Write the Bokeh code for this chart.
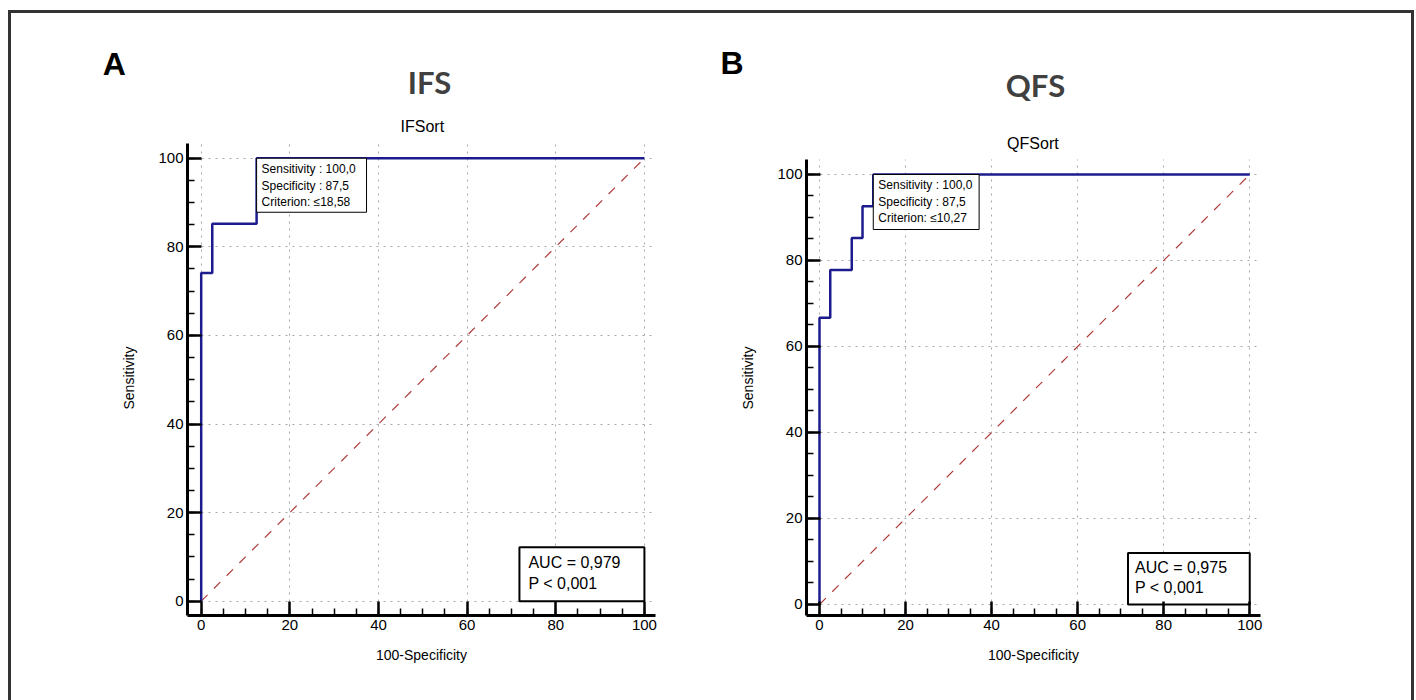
from bokeh.plotting import figure
from bokeh.layouts import row
from bokeh.models import Range1d, Label, FixedTicker
from bokeh.embed import file_html
from bokeh.resources import INLINE

# ---------------- data ----------------
major_ticks = [0, 20, 40, 60, 80, 100]
minor_ticks = list(range(0, 101, 5))

# Panel A (IFS)
a_fpr = [0, 0, 2.5, 2.5, 12.5, 12.5, 100]
a_tpr = [0, 74.1, 74.1, 85.2, 85.2, 100, 100]
a_crit_sens = 100.0
a_crit_spec = 87.5
a_crit_text = ["Sensitivity : 100,0", "Specificity : 87,5", "Criterion: \u226418,58"]
a_auc_text = ["AUC = 0,979", "P < 0,001"]

# Panel B (QFS)
b_fpr = [0, 0, 2.5, 2.5, 7.5, 7.5, 10, 10, 12.5, 12.5, 100]
b_tpr = [0, 66.7, 66.7, 77.8, 77.8, 85.2, 85.2, 92.6, 92.6, 100, 100]
b_crit_sens = 100.0
b_crit_spec = 87.5
b_crit_text = ["Sensitivity : 100,0", "Specificity : 87,5", "Criterion: \u226410,27"]
b_auc_text = ["AUC = 0,975", "P < 0,001"]

ref_x = [0, 100]
ref_y = [0, 100]

FONT = "Liberation Sans"
ROC_COLOR = "#1c1c8e"
DIAG_COLOR = "#b03c3c"


def make_panel(letter, title, subtitle, fpr, tpr, crit_sens, crit_spec, crit_text,
               auc_text, xr, yr, ybound_top, mb_left, mb_right,
               letter_pos, title_pos, sub_pos, crit_box, auc_box, auc_text_pos):
    p = figure(width=700, height=687, title=None,
               x_range=Range1d(*xr), y_range=Range1d(*yr),
               output_backend="svg", toolbar_location=None,
               min_border_left=mb_left, min_border_right=mb_right,
               min_border_top=127, min_border_bottom=85)
    p.outline_line_color = None
    p.background_fill_color = "white"
    p.border_fill_color = "white"

    for ax in (p.xaxis[0], p.yaxis[0]):
        ax.ticker = FixedTicker(ticks=major_ticks, minor_ticks=minor_ticks)
        ax.axis_line_width = 3
        ax.axis_line_color = "black"
        ax.major_tick_in = 14
        ax.major_tick_out = 0
        ax.minor_tick_in = 7
        ax.minor_tick_out = 0
        ax.major_tick_line_width = 2.5
        ax.minor_tick_line_width = 1.5
        ax.major_tick_line_color = "black"
        ax.minor_tick_line_color = "black"
        ax.major_label_text_font = FONT
        ax.major_label_text_font_size = "15px"
        ax.major_label_text_color = "black"
        ax.major_label_standoff = 4
        ax.axis_label_text_font = FONT
        ax.axis_label_text_font_size = "14px"
        ax.axis_label_text_font_style = "normal"
        ax.axis_label_text_color = "black"
    p.xaxis.axis_label = "100-Specificity"
    p.yaxis.axis_label = "Sensitivity"
    p.xaxis.axis_label_standoff = 14
    p.yaxis.axis_label_standoff = 18
    p.yaxis.bounds = (yr[0], ybound_top)

    for g in (p.xgrid[0], p.ygrid[0]):
        g.ticker = FixedTicker(ticks=major_ticks)
        g.grid_line_color = "#a8a8a8"
        g.grid_line_dash = "2 5"
        g.grid_line_width = 1
    p.xgrid.cross_bounds = (yr[0], ybound_top)

    # chance diagonal
    p.line(ref_x, ref_y, line_color=DIAG_COLOR, line_width=1.2, line_dash="9 9")
    # ROC curve
    p.line(fpr, tpr, line_color=ROC_COLOR, line_width=2.5)

    # criterion box
    cx = 100 - crit_spec
    bw, bh = crit_box
    p.quad(left=[cx], right=[cx + bw], top=[crit_sens], bottom=[crit_sens - bh],
           fill_color="white", line_color="black", line_width=1)
    for i, t in enumerate(crit_text):
        p.add_layout(Label(x=cx, y=crit_sens, x_offset=5, y_offset=-11 - 16.5 * i,
                           text=t, text_font=FONT, text_font_size="12px",
                           text_color="black", text_baseline="middle"))

    # AUC box
    al, at = auc_box
    p.quad(left=[al], right=[100], top=[at], bottom=[0],
           fill_color="white", line_color="black", line_width=2)
    tx, ty1, ty2 = auc_text_pos
    for t, yo in zip(auc_text, (ty1, ty2)):
        p.add_layout(Label(x=al, y=0, x_offset=tx, y_offset=yo, text=t,
                           text_font=FONT, text_font_size="16px",
                           text_color="black", text_baseline="middle"))

    # headings, placed in the panel above the frame (data coordinates)
    p.add_layout(Label(x=sub_pos[0], y=sub_pos[1], text=subtitle, text_font=FONT,
                       text_font_size="16px", text_color="black",
                       text_baseline="middle", text_align="center"), "above")
    p.add_layout(Label(x=title_pos[0], y=title_pos[1], text=title, text_font="Lato",
                       text_font_size="31px", text_font_style="bold",
                       text_color="#404040", text_baseline="middle",
                       text_align="center"), "above")
    p.add_layout(Label(x=letter_pos[0], y=letter_pos[1], text=letter, text_font=FONT,
                       text_font_size="32px", text_font_style="bold",
                       text_color="black", text_baseline="middle",
                       text_align="left"), "above")
    return p


pA = make_panel("A", "IFS", "IFSort", a_fpr, a_tpr, a_crit_sens, a_crit_spec, a_crit_text,
                a_auc_text, xr=(-3.09, 102.5), yr=(-3.23, 104.0), ybound_top=103.3,
                mb_left=176, mb_right=56,
                letter_pos=(-22.2, 121.2), title_pos=(51.5, 117.1), sub_pos=(49.9, 107.2),
                crit_box=(24.8, 12.2), auc_box=(71.8, 12.2), auc_text_pos=(9, 38.7, 18))
pB = make_panel("B", "QFS", "QFSort", b_fpr, b_tpr, b_crit_sens, b_crit_spec, b_crit_text,
                b_auc_text, xr=(-3.02, 102.5), yr=(-2.56, 107.9), ybound_top=103.4,
                mb_left=95, mb_right=151,
                letter_pos=(-23.0, 126.0), title_pos=(50.2, 120.9), sub_pos=(49.6, 107.1),
                crit_box=(24.6, 12.8), auc_box=(71.7, 12.0), auc_text_pos=(7, 37.3, 16.7))

layout = row(pA, pB, styles={"margin-left": "8px", "margin-top": "10px",
                             "border-top": "3px solid #333333",
                             "border-left": "3px solid #333333",
                             "border-right": "3px solid #333333"})

open("out.html", "w").write(file_html(layout, INLINE))
